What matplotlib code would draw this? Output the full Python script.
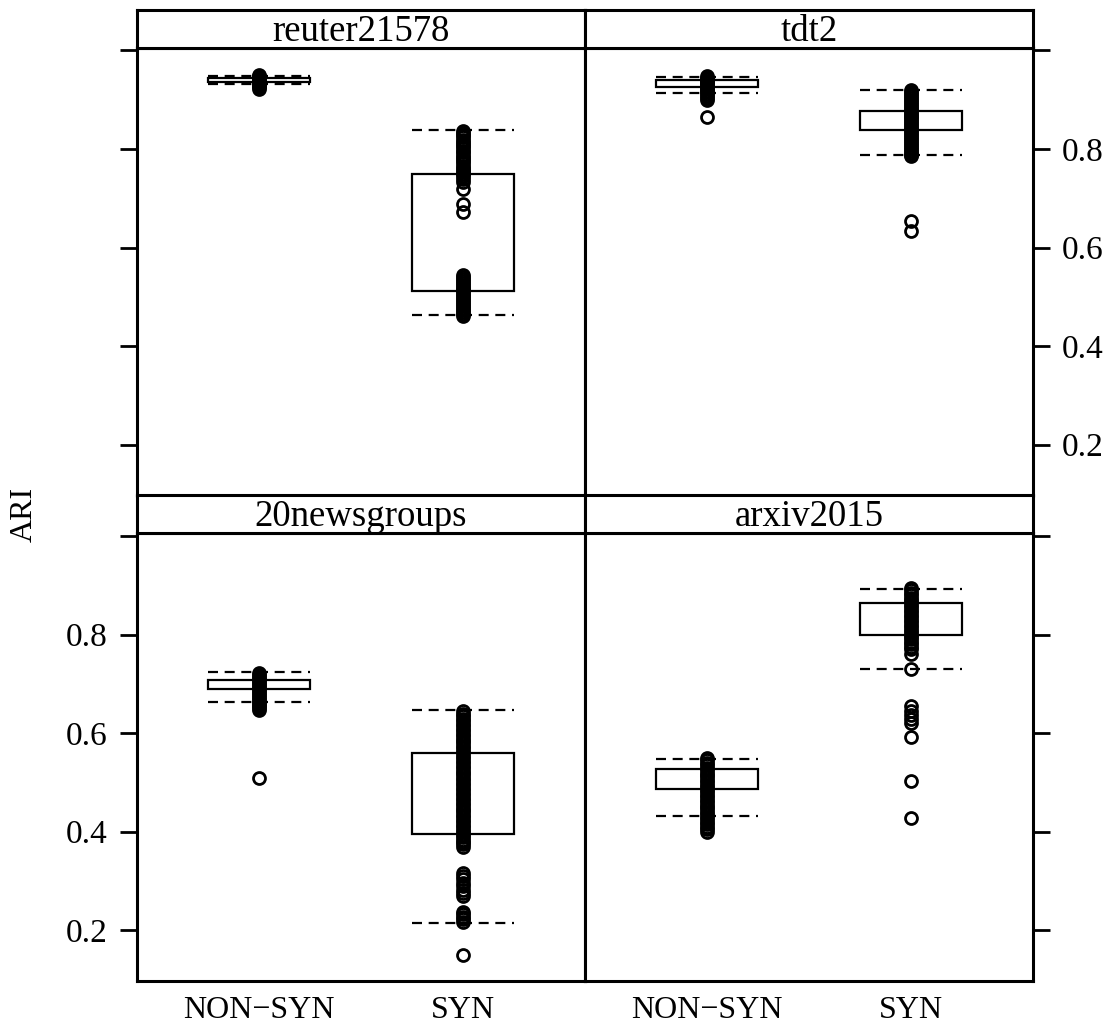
import matplotlib
matplotlib.use('Agg')
import matplotlib.pyplot as plt
from matplotlib.patches import Rectangle
from matplotlib.transforms import blended_transform_factory

plt.rcParams['font.family'] = ['Liberation Serif', 'DejaVu Serif']

W, H = 1120, 1023
groups = ['NON−SYN', 'SYN']
panels = ['reuter21578', 'tdt2', '20newsgroups', 'arxiv2015']

# box (q1, q3) and dashed whisker ends (low, high) per panel, per group
box_lo = {'reuter21578': [0.935, 0.512], 'tdt2': [0.926, 0.839],
          '20newsgroups': [0.689, 0.395], 'arxiv2015': [0.487, 0.799]}
box_hi = {'reuter21578': [0.945, 0.749], 'tdt2': [0.940, 0.877],
          '20newsgroups': [0.707, 0.560], 'arxiv2015': [0.527, 0.864]}
whisk_lo = {'reuter21578': [0.931, 0.463], 'tdt2': [0.914, 0.787],
            '20newsgroups': [0.664, 0.215], 'arxiv2015': [0.432, 0.730]}
whisk_hi = {'reuter21578': [0.948, 0.838], 'tdt2': [0.946, 0.919],
            '20newsgroups': [0.723, 0.647], 'arxiv2015': [0.548, 0.893]}

# individual ARI values
reuter_non = [0.951, 0.948, 0.946, 0.944, 0.942, 0.940, 0.938, 0.936, 0.934,
              0.932, 0.930, 0.928, 0.925, 0.922]
reuter_syn = [0.836, 0.832, 0.828, 0.824, 0.819, 0.815, 0.811, 0.806, 0.802,
              0.797, 0.793, 0.788, 0.784, 0.780, 0.775, 0.771, 0.766, 0.762,
              0.758, 0.754, 0.750, 0.745, 0.740, 0.733, 0.718, 0.688, 0.672,
              0.545, 0.541, 0.537, 0.533, 0.529, 0.525, 0.521, 0.517, 0.513,
              0.509, 0.505, 0.501, 0.497, 0.493, 0.489, 0.485, 0.481, 0.477,
              0.473, 0.469, 0.465, 0.461]
tdt2_non = [0.948, 0.945, 0.942, 0.939, 0.936, 0.933, 0.930, 0.927, 0.924,
            0.921, 0.918, 0.915, 0.912, 0.908, 0.904, 0.900, 0.865]
tdt2_syn = [0.920, 0.916, 0.912, 0.908, 0.904, 0.900, 0.896, 0.892, 0.888,
            0.884, 0.880, 0.876, 0.872, 0.868, 0.864, 0.860, 0.856, 0.852,
            0.848, 0.844, 0.840, 0.836, 0.832, 0.828, 0.824, 0.820, 0.816,
            0.812, 0.808, 0.804, 0.800, 0.796, 0.792, 0.788, 0.786, 0.654,
            0.634]
news_non = [0.722, 0.718, 0.714, 0.710, 0.706, 0.702, 0.698, 0.694, 0.690,
            0.686, 0.682, 0.678, 0.674, 0.670, 0.666, 0.662, 0.658, 0.654,
            0.650, 0.646, 0.508]
news_syn = [0.644, 0.639, 0.634, 0.629, 0.624, 0.619, 0.614, 0.609, 0.604,
            0.599, 0.594, 0.589, 0.584, 0.579, 0.574, 0.569, 0.564, 0.559,
            0.554, 0.549, 0.544, 0.539, 0.534, 0.529, 0.524, 0.519, 0.514,
            0.509, 0.504, 0.499, 0.494, 0.489, 0.484, 0.479, 0.474, 0.469,
            0.464, 0.459, 0.454, 0.449, 0.444, 0.439, 0.434, 0.429, 0.424,
            0.419, 0.414, 0.409, 0.404, 0.399, 0.394, 0.389, 0.384, 0.379,
            0.374, 0.368, 0.317, 0.310, 0.303, 0.296, 0.289, 0.282, 0.276,
            0.270, 0.238, 0.232, 0.227, 0.222, 0.216, 0.149]
arxiv_non = [0.550, 0.545, 0.540, 0.535, 0.530, 0.525, 0.520, 0.515, 0.510,
             0.505, 0.500, 0.495, 0.490, 0.485, 0.480, 0.475, 0.470, 0.465,
             0.460, 0.455, 0.450, 0.445, 0.440, 0.435, 0.430, 0.425, 0.420,
             0.415, 0.410, 0.405, 0.400]
arxiv_syn = [0.895, 0.890, 0.885, 0.880, 0.875, 0.870, 0.865, 0.860, 0.855,
             0.850, 0.845, 0.840, 0.835, 0.830, 0.825, 0.820, 0.815, 0.810,
             0.805, 0.800, 0.795, 0.790, 0.785, 0.780, 0.775, 0.770, 0.760,
             0.730, 0.654, 0.645, 0.637, 0.628, 0.620, 0.593, 0.503, 0.428]
points = {'reuter21578': [reuter_non, reuter_syn], 'tdt2': [tdt2_non, tdt2_syn],
          '20newsgroups': [news_non, news_syn], 'arxiv2015': [arxiv_non, arxiv_syn]}

yticks = [0.2, 0.4, 0.6, 0.8, 1.0]
ytick_labels = ['0.2', '0.4', '0.6', '0.8', '']


def rect(x, y_top, w, h):
    return [x / W, 1 - (y_top + h) / H, w / W, h / H]


fig = plt.figure(figsize=(W / 100, H / 100), dpi=100)
lw = 2.2
col_x = [137, 585]
row_y = [(10, 47.5), (495, 533)]   # strip top, panel top
pw, ph = 448, 448

for k, name in enumerate(panels):
    r, c = divmod(k, 2)
    s_top, p_top = row_y[r]
    ax = fig.add_axes(rect(col_x[c], p_top, pw, ph))
    st = fig.add_axes(rect(col_x[c], s_top, pw, p_top - s_top))
    st.set_xticks([])
    st.set_yticks([])
    for sp in st.spines.values():
        sp.set_linewidth(lw)
    st.text(0.5, 0.18, name, ha='center', va='baseline', fontsize=26.5,
            transform=st.transAxes)

    for i in range(2):
        x = i + 1
        ax.add_patch(Rectangle((x - 0.25, box_lo[name][i]), 0.5,
                               box_hi[name][i] - box_lo[name][i],
                               fill=False, lw=1.6, ec='black', zorder=2))
        for wv in (whisk_lo[name][i], whisk_hi[name][i]):
            ax.plot([x - 0.25, x + 0.25], [wv, wv], color='black', lw=1.6,
                    ls=(0, (4.5, 3)), zorder=2)
        ax.plot([x] * len(points[name][i]), points[name][i], 'o', ms=8.6,
                mfc='none', mec='black', mew=2.0, zorder=3)

    ax.set_xlim(0.4, 2.6)
    ax.set_ylim(0.097, 1.006)
    ax.set_xticks([])
    for sp in ax.spines.values():
        sp.set_linewidth(lw)
    ax.set_yticks(yticks)
    ax.set_yticklabels(ytick_labels, fontsize=24)
    ax.tick_params(axis='y', direction='out', length=12, width=2, pad=9,
                   left=(c == 0), right=(c == 1),
                   labelleft=(c == 0 and r == 1), labelright=(c == 1 and r == 0))
    if r == 1:
        trans = blended_transform_factory(ax.transData, ax.transAxes)
        for i, g in enumerate(groups):
            ax.text(i + 1, -0.082, g, ha='center', va='baseline', fontsize=23,
                    transform=trans)

fig.text(24 / W, 1 - 514 / H, 'ARI', rotation=90, ha='center', va='center',
         fontsize=23)

fig.savefig('out.png', dpi=100)
